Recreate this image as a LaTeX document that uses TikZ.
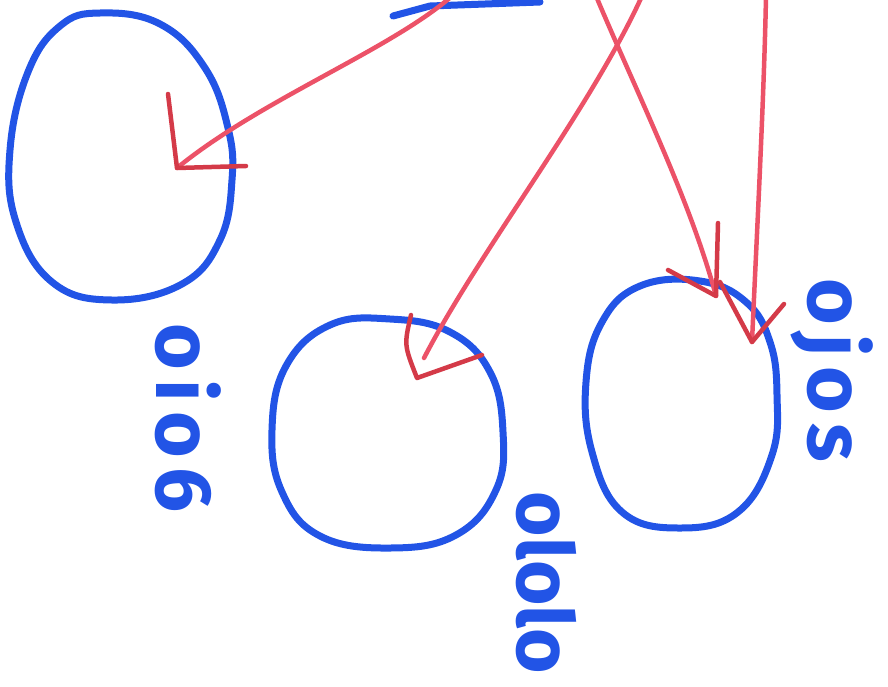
\documentclass[tikz,border=0pt]{standalone}
\usepackage{fontspec}
\newfontfamily\hand{Fira Sans}[LetterSpace=12]
\newfontfamily\handtight{Fira Sans}
\definecolor{penblue}{RGB}{34,84,230}
\definecolor{penred}{RGB}{236,82,104}
\definecolor{headred}{RGB}{212,58,72}
\tikzset{
  blueink/.style={draw=penblue, line width=7pt, line cap=round, line join=round},
  redink/.style={draw=penred, line width=4.5pt, line cap=round, line join=round},
  headink/.style={draw=headred, line width=4.5pt, line cap=round, line join=round},
  lbl/.style={text=penblue, font=\hand\bfseries\fontsize{80}{80}\selectfont, rotate=-90, inner sep=0pt},
  lbltight/.style={lbl, font=\handtight\bfseries\fontsize{78}{78}\selectfont}
}
\begin{document}
\begin{tikzpicture}[x=1pt,y=-1pt]
\useasboundingbox (0,0) rectangle (888,686);
% circles
\draw[blueink] plot[smooth cycle, tension=0.7] coordinates {(100,13) (160,24) (205,68) (228,128) (232,180) (220,240) (182,284) (112,300) (52,282) (16,222) (10,150) (28,72) (60,26)};
\draw[blueink] plot[smooth cycle, tension=0.7] coordinates {(330,325) (390,319) (450,332) (490,372) (503,432) (496,490) (456,535) (390,548) (320,536) (282,492) (272,430) (286,366)};
\draw[blueink] plot[smooth cycle, tension=0.7] coordinates {(640,286) (700,281) (746,302) (770,342) (777,395) (772,455) (738,512) (680,528) (622,512) (592,452) (586,382) (602,322)};
% partial shape at top
\draw[blueink] (393,16) -- (430,6) -- (540,2);
\coordinate (t1) at (177,168);
\coordinate (t2) at (417,378);
\coordinate (t3) at (716,296);
\coordinate (t4) at (752,342);
\coordinate (s1) at (452,-4);
\coordinate (s2) at (642,-4);
\coordinate (s3) at (596,-4);
\coordinate (s4) at (766,-4);
% shafts
\draw[redink] (s1) .. controls (390,50) and (260,100) .. (t1);
\draw[redink] (s2) .. controls (590,110) and (480,250) .. (424,358);
\draw[redink] (s3) .. controls (640,100) and (690,200) .. (t3);
\draw[redink] (s4) .. controls (764,100) and (756,250) .. (t4);
% heads
\draw[headink] (168,94) -- (t1) -- (246,166);
\draw[headink] (411,315) .. controls (404,345) .. (t2) -- (482,355);
\draw[headink] (718,223) -- (t3) -- (668,270);
\draw[headink] (720,282) -- (t4) -- (784,304);
% labels
\node[lbl] (la) at (188,418) {oio6};
\node[lbltight] (lb) at (546,583) {ololo};
\node[lbl] (lc) at (832,370) {ojos};
\end{tikzpicture}
\end{document}
